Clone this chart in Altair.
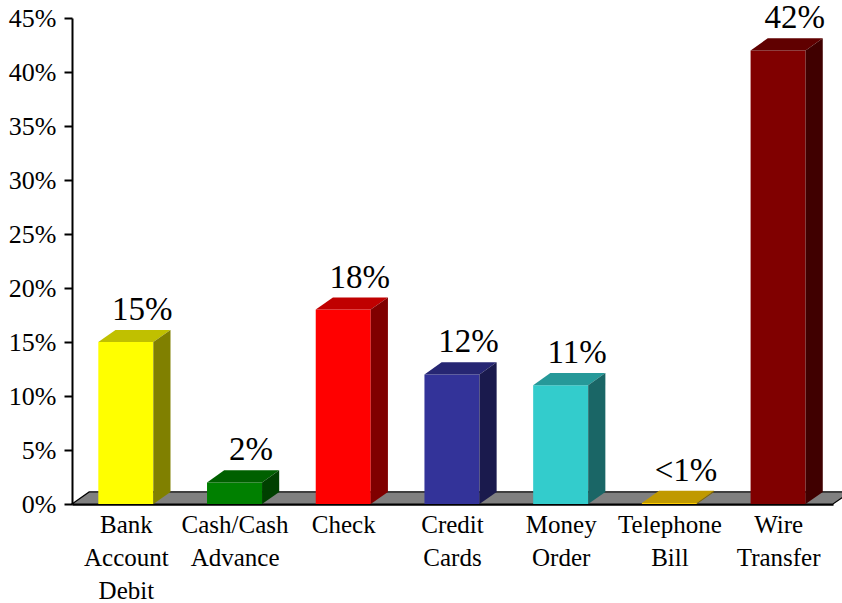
import altair as alt
import pandas as pd

# ---- data ----
categories = ["Bank Account Debit", "Cash/Cash Advance", "Check", "Credit Cards",
              "Money Order", "Telephone Bill", "Wire Transfer"]
axis_labels = ["Bank\nAccount\nDebit", "Cash/Cash\nAdvance", "Check", "Credit\nCards",
               "Money\nOrder", "Telephone\nBill", "Wire\nTransfer"]
values = [15, 2, 18, 12, 11, 0.1, 42]
value_labels = ["15%", "2%", "18%", "12%", "11%", "<1%", "42%"]

# ---- styles ----
front_colors = ["#FFFF00", "#008000", "#FF0000", "#333399", "#33CCCC", "#FFCC00", "#800000"]
top_colors = ["#C0C000", "#006000", "#C00000", "#262673", "#269999", "#C09900", "#600000"]
side_colors = ["#808000", "#004000", "#800000", "#1A1A4D", "#1A6666", "#806600", "#400000"]

FONT = "Times New Roman, Liberation Serif, DejaVu Serif, serif"
N = len(categories)
W, H = 761, 486
LEFT, RIGHT = 0.242, 0.748   # bar front face within its band (band units)
DX, DY = 0.158, 1.12         # 3-D depth offset (x band units, y percent units)

front = pd.DataFrame({
    "cat": categories,
    "x": [i + LEFT for i in range(N)],
    "x2": [i + RIGHT for i in range(N)],
    "v": values,
    "color": front_colors,
    "label": value_labels,
    "axlabel": axis_labels,
    "xc": [i + 0.5 for i in range(N)],
})

# parallelogram faces drawn as vertical areas (points sorted by x)
top_rows, side_rows = [], []
for i, (c, v) in enumerate(zip(categories, values)):
    L, R = i + LEFT, i + RIGHT
    for px, py, py2 in [(L, v, v), (L + DX, v + DY, v), (R, v + DY, v), (R + DX, v + DY, v + DY)]:
        top_rows.append({"cat": c, "x": px, "y": py, "y2": py2, "color": top_colors[i]})
    for px, py, py2 in [(R, v, 0), (R + DX, v + DY, DY)]:
        side_rows.append({"cat": c, "x": px, "y": py, "y2": py2, "color": side_colors[i]})
top = pd.DataFrame(top_rows)
side = pd.DataFrame(side_rows)

floor = pd.DataFrame({
    "x": [0, DX, N, N + DX],
    "y": [0, DY, DY, DY],
    "y2": [0, 0, 0, DY],
})

xscale = alt.Scale(domain=[0, N], nice=False, zero=False)
yscale = alt.Scale(domain=[0, 45], nice=False)

y_axis = alt.Axis(
    values=list(range(0, 50, 5)),
    labelExpr="datum.value + '%'",
    tickSize=8, tickColor="black", tickWidth=2,
    domainColor="black", domainWidth=2,
    labelFont=FONT, labelFontSize=26, labelColor="black", labelPadding=8,
    grid=False, title=None,
)
x_axis = alt.Axis(
    values=[0], labels=False, ticks=False, grid=False, title=None,
    domain=True, domainColor="black", domainWidth=2.5,
)

floor_layer = alt.Chart(floor).mark_area(
    color="#808080", stroke="black", strokeWidth=1.2
).encode(
    x=alt.X("x:Q", scale=xscale, axis=x_axis),
    y=alt.Y("y:Q", scale=yscale, axis=y_axis, stack=None),
    y2="y2:Q",
)

front_layer = alt.Chart(front).mark_bar().encode(
    x=alt.X("x:Q", scale=xscale),
    x2="x2:Q",
    y=alt.Y("v:Q", scale=yscale),
    y2=alt.datum(0),
    color=alt.Color("color:N", scale=None),
)

top_layer = alt.Chart(top).mark_area().encode(
    x=alt.X("x:Q", scale=xscale),
    y=alt.Y("y:Q", scale=yscale, stack=None),
    y2="y2:Q",
    detail="cat:N",
    color=alt.Color("color:N", scale=None),
)

side_layer = alt.Chart(side).mark_area().encode(
    x=alt.X("x:Q", scale=xscale),
    y=alt.Y("y:Q", scale=yscale, stack=None),
    y2="y2:Q",
    detail="cat:N",
    color=alt.Color("color:N", scale=None),
)

text_layer = alt.Chart(front).mark_text(
    font=FONT, fontSize=33, color="black", baseline="alphabetic", align="center", dx=16, dy=-22
).encode(
    x=alt.X("xc:Q", scale=xscale),
    y=alt.Y("v:Q", scale=yscale),
    text="label:N",
)

cat_layer = alt.Chart(front).mark_text(
    font=FONT, fontSize=25, color="black", baseline="top", align="center",
    lineBreak="\n", lineHeight=33,
).encode(
    x=alt.X("xc:Q", scale=xscale),
    y=alt.value(H + 9),
    text="axlabel:N",
)

chart = alt.layer(floor_layer, front_layer, top_layer, side_layer, text_layer, cat_layer).properties(
    width=W, height=H,
    autosize=alt.AutoSizeParams(type="none"),
    padding={"left": 72, "top": 18, "right": 9, "bottom": 99},
).configure(
    background="white", font=FONT
).configure_view(stroke=None)

chart.save("out.html", embed_options={"renderer": "svg", "actions": False})
